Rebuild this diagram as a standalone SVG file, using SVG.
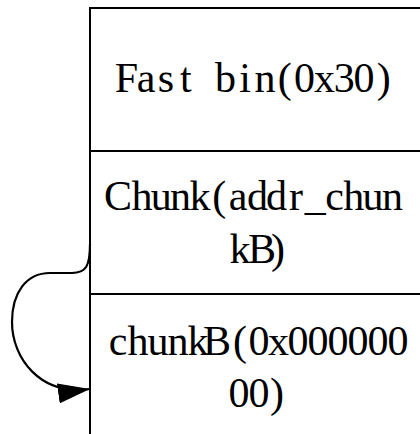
<svg xmlns="http://www.w3.org/2000/svg" width="420" height="434" viewBox="0 0 420 434">
  <style>
    .cell { fill: #ffffff; stroke: #000000; stroke-width: 2; }
    .label { font-family: "Liberation Serif", "Noto Sans CJK SC", serif; font-size: 42px; fill: #000000; text-anchor: middle; }
    .link { fill: none; stroke: #000000; stroke-width: 2.2; }
  </style>
  <defs>
    <marker id="arrow" markerUnits="userSpaceOnUse" markerWidth="32" markerHeight="20" refX="32" refY="10" orient="auto">
      <path d="M0,0 L32,10 L0,20 z" fill="#000000"/>
    </marker>
  </defs>

  <!-- stacked bin / chunk cells; right and bottom edges run past the canvas.
       Labels are set on a fixed character pitch (one x per glyph). -->
  <g id="fastbin">
    <rect class="cell" x="90" y="8" width="340" height="143"/>
    <text class="label" y="92" x="126.4 146.2 166 185.8 205.6 225.4 245.2 265 284.8 304.6 324.4 344.2 364 383.8">Fast bin(0x30)</text>
  </g>
  <g id="chunk">
    <rect class="cell" x="90" y="151" width="340" height="143"/>
    <text class="label" y="210" x="118 142 161.3 180.6 199.9 219.2 238.2 257.4 276.6 295.9 315.2 334.5 353.8 373.1 392.4">Chunk(addr_chun</text>
    <text class="label" y="263" x="240 262 278">kB)</text>
  </g>
  <g id="chunkB">
    <rect class="cell" x="90" y="294" width="340" height="150"/>
    <text class="label" y="355" x="118 138 158 178 198 217 240 259 278.5 298 318 338 358 378 398">chunkB(0x000000</text>
    <text class="label" y="407" x="239 259 277">00)</text>
  </g>

  <!-- fd pointer looping from chunk to chunkB -->
  <g id="connectors">
    <path class="link" marker-end="url(#arrow)" d="M90,244 C90,266 86,273 72,273 L50,273 C26,273 12,293 12,322 C12,358 40,396 90,389"/>
  </g>
</svg>
